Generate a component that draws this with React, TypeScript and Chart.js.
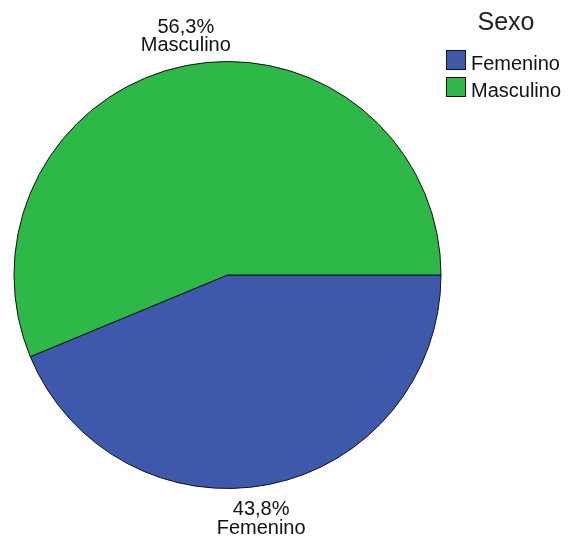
import React, { useEffect, useRef } from "react";
import { Chart, registerables } from "chart.js";

Chart.register(...registerables);

const categories = ["Femenino", "Masculino"];
const counts = [7, 9];
const sliceColors = ["#3E58AC", "#2EB848"];
const legendTitle = "Sexo";

const FONT = "'Liberation Sans', Arial, sans-serif";

const fmtPct = (v: number, total: number) =>
  (Math.round((v / total) * 1000) / 10).toFixed(1).replace(".", ",") + "%";

const labelPlugin = {
  id: "spssLabels",
  afterDatasetsDraw(chart: any) {
    const ctx = chart.ctx;
    const meta = chart.getDatasetMeta(0);
    const data = chart.data.datasets[0].data as number[];
    const total = data.reduce((a, b) => a + b, 0);
    ctx.save();
    ctx.fillStyle = "#111";
    ctx.font = `20px ${FONT}`;
    ctx.textAlign = "center";
    ctx.textBaseline = "alphabetic";
    meta.data.forEach((arc: any, i: number) => {
      const { x, y, startAngle, endAngle, outerRadius } = arc.getProps(
        ["x", "y", "startAngle", "endAngle", "outerRadius"],
        true
      );
      const mid = (startAngle + endAngle) / 2;
      const px = x + Math.cos(mid) * outerRadius;
      const py = y + Math.sin(mid) * outerRadius;
      const pct = fmtPct(data[i], total);
      const name = chart.data.labels[i];
      if (Math.sin(mid) < 0) {
        ctx.fillText(name, px, py - 15);
        ctx.fillText(pct, px, py - 33);
      } else {
        ctx.fillText(pct, px - 8, py + 31);
        ctx.fillText(name, px - 8, py + 50);
      }
    });
    ctx.restore();
  },
  afterDraw(chart: any) {
    const ctx = chart.ctx;
    ctx.save();
    ctx.fillStyle = "#222";
    ctx.font = `25px ${FONT}`;
    ctx.textAlign = "center";
    ctx.textBaseline = "alphabetic";
    ctx.fillText(legendTitle, 506, 30);
    ctx.font = `20px ${FONT}`;
    ctx.textAlign = "left";
    const labels = chart.data.labels as string[];
    const colors = chart.data.datasets[0].backgroundColor as string[];
    labels.forEach((lab, i) => {
      const by = 50 + i * 27;
      ctx.fillStyle = colors[i];
      ctx.fillRect(446, by, 20, 20);
      ctx.strokeStyle = "#111";
      ctx.lineWidth = 1;
      ctx.strokeRect(446.5, by + 0.5, 19, 19);
      ctx.fillStyle = "#111";
      ctx.fillText(lab, 471, by + 20);
    });
    ctx.restore();
  },
};

export default function App() {
  const ref = useRef<HTMLCanvasElement | null>(null);
  useEffect(() => {
    if (!ref.current) return;
    const chart = new Chart(ref.current, {
      type: "pie",
      data: {
        labels: categories,
        datasets: [
          {
            data: counts,
            backgroundColor: sliceColors,
            borderColor: "#111",
            borderWidth: 1,
            hoverOffset: 0,
          },
        ],
      },
      options: {
        responsive: false,
        animation: false,
        rotation: 90,
        layout: { padding: { left: 13.5, right: 129.5, top: 61, bottom: 53 } },
        plugins: {
          legend: { display: false },
          tooltip: { enabled: false },
        },
      },
      plugins: [labelPlugin],
    });
    return () => chart.destroy();
  }, []);
  return (
    <div style={{ position: "fixed", left: 0, top: 0, width: 571, height: 542, background: "#fff" }}>
      <canvas ref={ref} width={571} height={542} style={{ width: 571, height: 542 }} />
    </div>
  );
}
